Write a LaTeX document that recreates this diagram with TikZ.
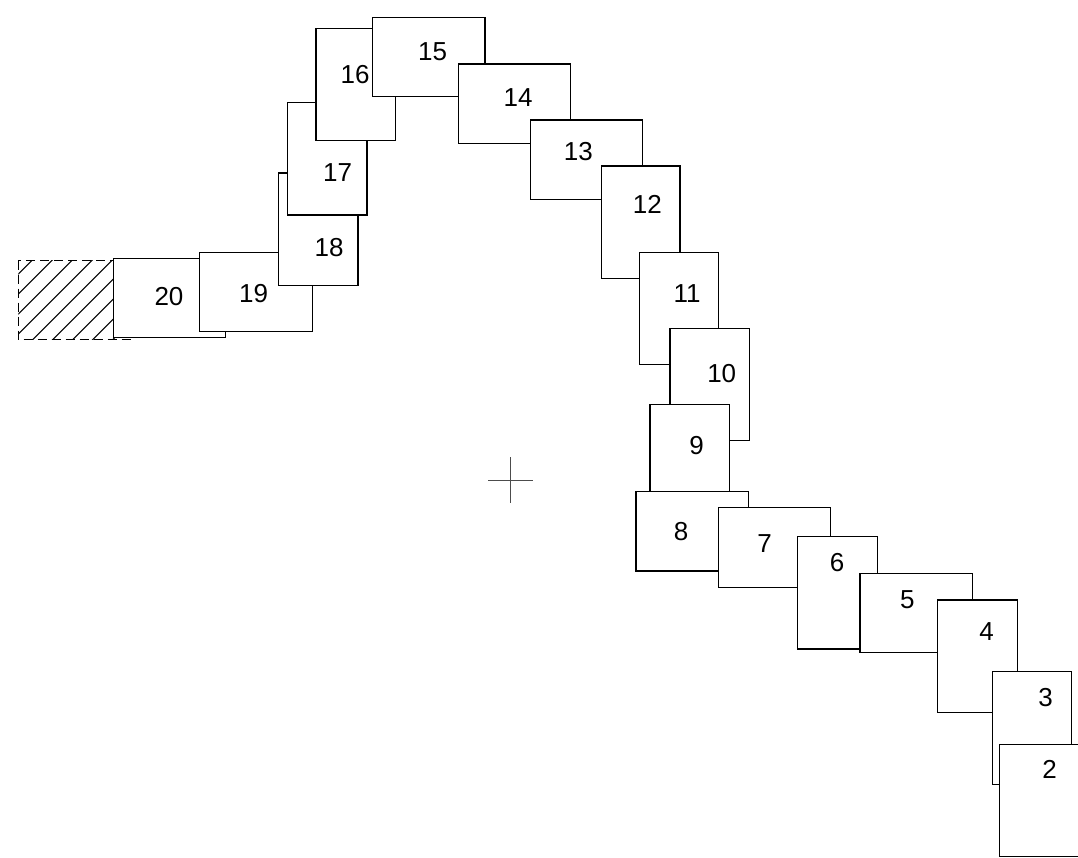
\documentclass[tikz,border=0pt]{standalone}
\usepackage{fontspec}
\setmainfont{Liberation Sans}
\begin{document}
\begin{tikzpicture}[x=1pt,y=-1pt,
  box/.style={draw=black,fill=white,line width=1.4pt,rectangle,inner sep=0pt,outer sep=0pt},
  lab/.style={inner sep=0pt,text depth=0pt,font=\fontsize{26}{30}\selectfont},
  hatchline/.style={line width=1.1pt},
  crossline/.style={line width=0.9pt,draw=black!70}]
\useasboundingbox (0,0) rectangle (1078,858);
% hatched area
\coordinate (hA) at (18.3,260.7);
\coordinate (hB) at (130,339.3);
\begin{scope}
  \clip (hA) rectangle (hB);
  \foreach \k in {-6,...,12}{
    \draw[hatchline] ({292.4+20*\k-360},360) -- ({292.4+20*\k-240},240);
  }
\end{scope}
\draw[line width=1pt,dash pattern=on 9pt off 5pt] (hA) rectangle (hB);
% boxes, drawn from 20 down to 2
\foreach \n/\xa/\ya/\xb/\yb/\lx/\ly in {
  20/113.3/258.3/225.7/337.7/169/296,
  19/199.3/252.7/312.3/331.7/253.7/293,
  18/278.3/173/358/285.7/329/247.5,
  17/287.7/102.7/367/215/337.5/173,
  16/316/28.3/395.7/140.7/355/74.5,
  15/372.7/17.3/485/96.7/432.5/52,
  14/458.3/64/570.7/143.3/518/97.5,
  13/530.7/120/642.7/199.3/578.3/151.3,
  12/601.7/166/680/278.3/647.3/204.5,
  11/639.3/252.3/718.3/364.3/687/293.5,
  10/670/328.3/749.3/440.7/721.7/373.3,
  9/650/404.3/729.3/516/696.7/445.8,
  8/636/491.7/748.3/571/681/531.3,
  7/718.3/507.7/830.7/587.3/764.7/543.8,
  6/797.7/536.7/877.3/649/837.2/562.2,
  5/860/573.3/972.7/652.7/907.3/599.2,
  4/937.3/600/1017.3/712.3/986.7/631.2,
  3/992.3/671.7/1071.7/784.3/1045.7/697.8,
  2/999.3/744.3/1079.3/856.7/1049.7/769.7}{
  \node[box,minimum width={(\xb-\xa)*1pt},minimum height={(\yb-\ya)*1pt}] (b\n) at ({(\xa+\xb)/2},{(\ya+\yb)/2}) {};
  \node[lab] (l\n) at (\lx,\ly) {\n};
}
% crosshair
\coordinate (cl) at (488.3,480.7);
\coordinate (cr) at (533.3,480.7);
\coordinate (ct) at (510.7,457.3);
\coordinate (cb) at (510.7,503.3);
\draw[crossline] (cl) -- (cr);
\draw[crossline] (ct) -- (cb);
\end{tikzpicture}
\end{document}
